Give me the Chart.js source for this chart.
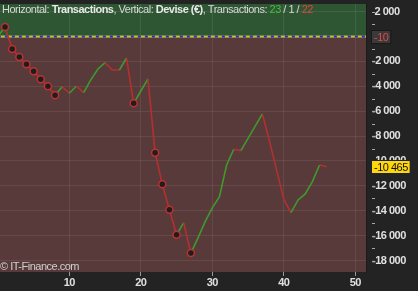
<!DOCTYPE html>
<html>
<head>
<meta charset="utf-8">
<script src="https://cdn.jsdelivr.net/npm/chart.js@4"></script>
<style>
    html, body { margin: 0; padding: 0; background: #232323; }
    #wrap { width: 418px; height: 291px; position: relative; }
</style>
</head>
<body>
<div id="wrap"><canvas id="chart"></canvas></div>
<script>
// Equity curve, one point per closed transaction
const transactions = [0, 1, 2, 3, 4, 5, 6, 7, 8, 9, 10, 11, 12, 13, 14, 15, 16, 17, 18, 19, 20, 21, 22, 23,
    24, 25, 26, 27, 28, 29, 30, 31, 32, 33, 34, 35, 36, 37, 38, 39, 40, 41, 42, 43, 44, 45, 46];
const equity = [0, 760, -1000, -1650, -2230, -2800, -3440, -4000, -4720, -4030, -4560, -3980, -4510,
    -3490, -2610, -2100, -2690, -2690, -1730, -5370, -4380, -3410, -9330, -11870, -13910, -15920,
    -14960, -17400, -16180, -14870, -13770, -12870, -10320, -9060, -9170, -8180, -7200, -6220,
    -8390, -10740, -13080, -14150, -13130, -12650, -11660, -10320, -10465];

// Reference level and axis ticks
const refLevel = -10;
const xTicks = [10, 20, 30, 40, 50];
const yTicks = [2000, -2000, -4000, -6000, -8000, -10000, -12000, -14000, -16000, -18000];

// Trade counts shown in the header
const wins = 23;
const flats = 1;
const losses = 22;

const GREEN = "#3f9a2c";
const RED = "#b3302f";
const FONT = "'Liberation Sans', Arial, sans-serif";

// Points that make a new high or a new low get a marker
const isExtreme = equity.map((v, i) => {
    if (i === 0) return false;
    const before = equity.slice(0, i);
    return v > Math.max(...before) || v < Math.min(...before);
});

const fmt = (v) => {
    const s = String(Math.abs(v)).replace(/\B(?=(\d{3})+(?!\d))/g, " ");
    return v < 0 ? "-" + s : " " + s;
};

// Green area above zero, red area below
const zonesPlugin = {
    id: "zones",
    beforeDraw: (chart) => {
        const { ctx, chartArea: a, scales } = chart;
        ctx.letterSpacing = "-0.5px"; // text in the original is set a bit tight
        const y0 = scales.y.getPixelForValue(0);
        ctx.save();
        ctx.fillStyle = "#2f5633";
        ctx.fillRect(a.left, a.top, a.right - a.left, y0 - a.top);
        ctx.fillStyle = "#583a3a";
        ctx.fillRect(a.left, y0, a.right - a.left, a.bottom - y0);
        ctx.restore();
    }
};

// Header, copyright, right-axis minor ticks and value boxes
const overlayPlugin = {
    id: "overlay",
    afterDraw: (chart) => {
        const { ctx, chartArea: a, scales } = chart;
        ctx.save();

        // minor ticks on the right axis
        ctx.strokeStyle = "#a8a8a8";
        ctx.lineWidth = 1;
        for (let v = 2000; v >= -18000; v -= 1000) {
            const y = Math.round(scales.y.getPixelForValue(v)) + 0.5;
            ctx.beginPath();
            ctx.moveTo(a.right + 6, y);
            ctx.lineTo(a.right + 9, y);
            ctx.stroke();
        }

        // header line
        const parts = [
            ["Horizontal: ", "normal", "#d8d8d8"],
            ["Transactions", "bold", "#e8e8e8"],
            [", Vertical: ", "normal", "#d8d8d8"],
            ["Devise (\u20ac)", "bold", "#e8e8e8"],
            [", Transactions: ", "normal", "#d8d8d8"],
            [String(wins), "normal", "#3fc23f"],
            [" / " + flats + " / ", "normal", "#d8d8d8"],
            [String(losses), "normal", "#e84040"]
        ];
        let x = 2;
        ctx.textBaseline = "middle";
        ctx.textAlign = "left";
        parts.forEach(([t, w, c]) => {
            ctx.font = w + " 11px " + FONT;
            ctx.fillStyle = c;
            ctx.fillText(t, x, 10);
            x += ctx.measureText(t).width;
        });

        // copyright
        ctx.font = "11px " + FONT;
        ctx.fillStyle = "#cfcfcf";
        ctx.fillText("\u00a9 IT-Finance.com", 0, a.bottom - 5);

        // value boxes on the right axis
        const box = (value, text, bg, fg, border) => {
            const y = Math.round(scales.y.getPixelForValue(value));
            ctx.font = "11px " + FONT;
            const w = ctx.measureText(text).width + 4;
            ctx.fillStyle = bg;
            ctx.fillRect(a.right + 6, y - 6, w, 12);
            ctx.strokeStyle = border;
            ctx.strokeRect(a.right + 5.5, y - 6.5, w + 1, 13);
            ctx.fillStyle = fg;
            ctx.fillText(text, a.right + 8, y + 0.5);
        };
        box(refLevel, fmt(refLevel), "#3a3a3a", "#e04848", "#1a1a1a");
        const last = equity[equity.length - 1];
        box(last, fmt(last), "#ffd60a", "#111111", "#1c2440");

        ctx.restore();
    }
};

const points = transactions.map((t, i) => ({ x: t, y: equity[i] }));
const refLine = [{ x: 0, y: refLevel }, { x: 52, y: refLevel }];

new Chart(document.getElementById("chart"), {
    type: "line",
    data: {
        datasets: [
            {
                // equity line, drawn on top
                data: points,
                order: 0,
                borderWidth: 1.6,
                tension: 0,
                segment: {
                    borderColor: (ctx) => ctx.p1.parsed.y > ctx.p0.parsed.y ? GREEN : RED
                },
                pointRadius: (ctx) => isExtreme[ctx.dataIndex] ? 3.5 : 0,
                pointBackgroundColor: "#1c1f22",
                pointBorderColor: "#c0302f",
                pointBorderWidth: 1.5
            },
            {
                data: refLine,
                order: 1,
                borderColor: "#1b2fd0",
                borderWidth: 2,
                borderDash: [3, 4],
                pointRadius: 0
            },
            {
                data: refLine,
                order: 2,
                borderColor: "#b8c832",
                borderWidth: 2,
                pointRadius: 0
            },
            {
                data: refLine.map((p) => ({ x: p.x, y: p.y - 70 })),
                order: 3,
                borderColor: "#b04040",
                borderWidth: 1,
                pointRadius: 0
            }
        ]
    },
    options: {
        responsive: true,
        maintainAspectRatio: false,
        animation: false,
        events: [],
        layout: { padding: { top: 4, left: 0, right: 0, bottom: 0 } },
        plugins: {
            legend: { display: false },
            tooltip: { enabled: false }
        },
        scales: {
            x: {
                type: "linear",
                min: 0.3,
                max: 51.5,
                afterFit: (s) => {
                    s.height = 19;
                    s.paddingLeft = 0;
                    s.paddingRight = 0;
                },
                afterBuildTicks: (s) => { s.ticks = xTicks.map((v) => ({ value: v })); },
                grid: {
                    color: "rgba(255,255,255,0.08)",
                    tickColor: "#9a9a9a",
                    tickLength: 4
                },
                border: { display: false },
                ticks: {
                    color: "#e0e0e0",
                    padding: 0,
                    font: { family: FONT, size: 11, weight: "bold" }
                }
            },
            y: {
                position: "right",
                min: -18920,
                max: 2610,
                afterFit: (s) => {
                    s.width = 52;
                    s.paddingTop = 0;
                    s.paddingBottom = 0;
                },
                afterBuildTicks: (s) => { s.ticks = yTicks.map((v) => ({ value: v })); },
                grid: {
                    color: "rgba(255,255,255,0.08)",
                    drawTicks: false
                },
                border: { display: true, color: "#1a1a1a" },
                ticks: {
                    color: "#e0e0e0",
                    padding: 6,
                    callback: (v) => fmt(v),
                    font: { family: FONT, size: 11, weight: "bold" }
                }
            }
        }
    },
    plugins: [zonesPlugin, overlayPlugin]
});
</script>
</body>
</html>
